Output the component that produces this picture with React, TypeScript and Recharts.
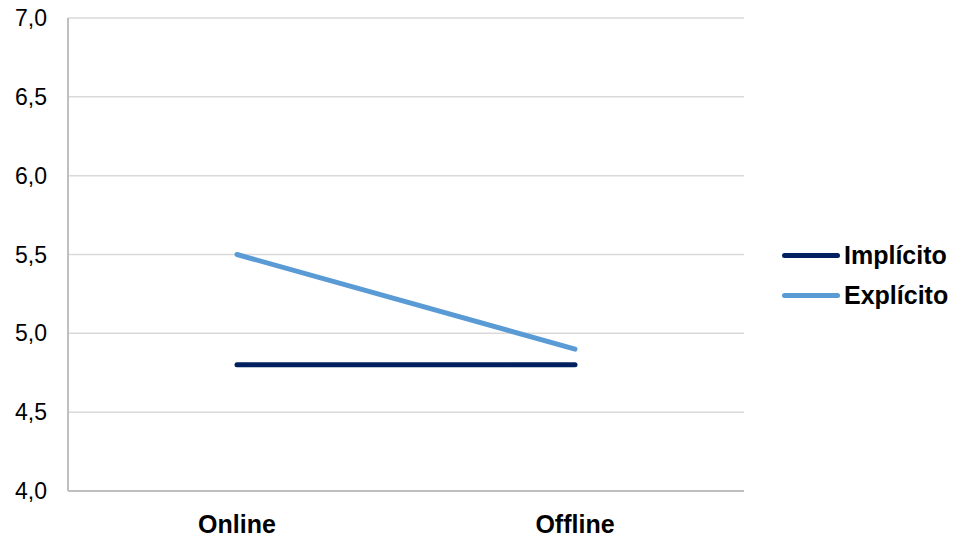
import { LineChart, Line, XAxis, YAxis, CartesianGrid } from "recharts";

const modes = ["Online", "Offline"];
const implicito = [4.8, 4.8];
const explicito = [5.5, 4.9];
const yTicks = [4.0, 4.5, 5.0, 5.5, 6.0, 6.5, 7.0];

const series = [
  { key: "Implícito", color: "#002060" },
  { key: "Explícito", color: "#5B9BD5" },
];

const data = modes.map((m, i) => ({
  mode: m,
  "Implícito": implicito[i],
  "Explícito": explicito[i],
}));

const font = "'Liberation Sans', Arial, sans-serif";

// legend sits to the right of the plot, outside the svg
function LegendBox() {
  return (
    <div
      style={{
        position: "absolute",
        left: 782,
        top: 235,
        fontFamily: font,
      }}
    >
      {series.map((s) => (
        <div
          key={s.key}
          style={{ display: "flex", alignItems: "center", height: 40 }}
        >
          <div
            style={{
              width: 58,
              height: 5,
              borderRadius: 3,
              background: s.color,
              marginRight: 4,
            }}
          />
          <span style={{ fontWeight: "bold", fontSize: 25, color: "#000" }}>
            {s.key}
          </span>
        </div>
      ))}
    </div>
  );
}

export default function App() {
  return (
    <div
      style={{
        position: "absolute",
        left: 0,
        top: 0,
        width: 958,
        height: 544,
        background: "#fff",
      }}
    >
      <LineChart
        width={958}
        height={544}
        data={data}
        margin={{ top: 18, right: 214, bottom: 0, left: 8 }}
      >
        <CartesianGrid vertical={false} stroke="#D9D9D9" strokeWidth={1.5} />
        <XAxis
          dataKey="mode"
          height={53}
          padding={{ left: 169, right: 169 }}
          axisLine={{ stroke: "#BFBFBF", strokeWidth: 2 }}
          tickLine={false}
          tickSize={0}
          tickMargin={24}
          tick={{ fontSize: 25, fontWeight: "bold", fill: "#000", fontFamily: font }}
        />
        <YAxis
          width={60}
          domain={[4, 7]}
          ticks={yTicks}
          interval={0}
          axisLine={{ stroke: "#BFBFBF", strokeWidth: 2 }}
          tickLine={false}
          tickSize={0}
          tickMargin={21}
          tickFormatter={(v: number) => v.toFixed(1).replace(".", ",")}
          tick={{ fontSize: 23, fill: "#000", fontFamily: font }}
        />
        <YAxis
          yAxisId="frame"
          orientation="right"
          width={0}
          domain={[4, 7]}
          tick={false}
          tickLine={false}
          axisLine={{ stroke: "#BFBFBF", strokeWidth: 2 }}
        />
        {series.map((s) => (
          <Line
            key={s.key}
            dataKey={s.key}
            stroke={s.color}
            strokeWidth={5}
            strokeLinecap="round"
            dot={false}
            activeDot={false}
            isAnimationActive={false}
          />
        ))}
      </LineChart>
      <LegendBox />
    </div>
  );
}
